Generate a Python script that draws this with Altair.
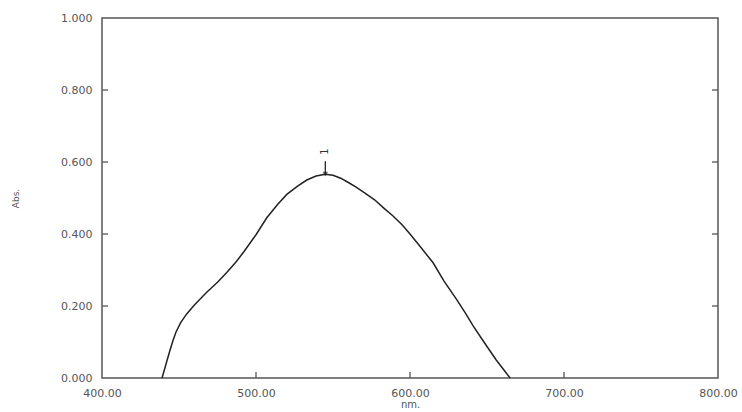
import altair as alt
import pandas as pd

# Spectrum
nm = [439, 442, 444, 446, 448, 451, 455, 460, 468, 475, 481, 487, 492, 500, 507, 514, 520, 527, 533, 539, 545,
      550, 555, 560, 565, 571, 577, 583, 589, 595, 600, 607, 615, 622, 630, 636, 641, 648, 656, 661, 665]
absorb = [0.0, 0.045, 0.075, 0.103, 0.127, 0.153, 0.178, 0.203, 0.238, 0.266, 0.293, 0.322, 0.35, 0.398, 0.445, 0.482,
          0.51, 0.533, 0.55, 0.561, 0.566, 0.563, 0.555, 0.543, 0.53, 0.513, 0.495, 0.472, 0.45, 0.425, 0.40,
          0.363, 0.32, 0.27, 0.22, 0.18, 0.145, 0.10, 0.05, 0.022, 0.0]

peak_nm = [545]
peak_abs = [0.566]
peak_label = ["1"]

y_ticks = [0.0, 0.2, 0.4, 0.6, 0.8, 1.0]
x_ticks = [400, 500, 600, 700, 800]
inner_y = [0.2, 0.4, 0.6, 0.8]
inner_x = [500, 600, 700]

df = pd.DataFrame({"nm": nm, "abs": absorb})
pk = pd.DataFrame({"nm": peak_nm, "abs": peak_abs, "lab": peak_label})
pk["top"] = pk["abs"] + 0.036
pk["txt"] = pk["abs"] + 0.063
iy = pd.DataFrame({"v": inner_y})
ix = pd.DataFrame({"v": inner_x})

gray = "#555555"
font = "DejaVu Sans"
xs = alt.Scale(domain=[400, 800], nice=False, zero=False)
ys = alt.Scale(domain=[0, 1], nice=False)

x_axis = alt.Axis(values=x_ticks, format=".2f", ticks=False, domain=False, grid=False,
                  labelPadding=9, title="nm.", titlePadding=1, titleFontWeight="normal",
                  titleFontSize=10, labelFontSize=11, labelColor=gray, titleColor=gray,
                  labelFont=font, titleFont=font, labelFlush=False)
y_axis = alt.Axis(values=y_ticks, format=".3f", ticks=False, domain=False, grid=False,
                  labelPadding=10, title="Abs.", titleFontWeight="normal", titleFontSize=9,
                  titleX=-82, titleY=180, titleAngle=270, labelFontSize=11, labelColor=gray,
                  titleColor=gray, labelFont=font, titleFont=font)

line = alt.Chart(df).mark_line(color="#222222", strokeWidth=1.5).encode(
    x=alt.X("nm:Q", scale=xs, axis=x_axis),
    y=alt.Y("abs:Q", scale=ys, axis=y_axis),
)

tick_left = alt.Chart(iy).mark_rule(color=gray, strokeWidth=1.3).encode(
    y=alt.Y("v:Q", scale=ys), x=alt.value(0), x2=alt.value(6))
tick_right = alt.Chart(iy).mark_rule(color=gray, strokeWidth=1.3).encode(
    y=alt.Y("v:Q", scale=ys), x=alt.value(610), x2=alt.value(616))
tick_bottom = alt.Chart(ix).mark_rule(color=gray, strokeWidth=1.3).encode(
    x=alt.X("v:Q", scale=xs), y=alt.value(354), y2=alt.value(360))

arrow = alt.Chart(pk).mark_rule(color="#222", strokeWidth=1.3).encode(
    x=alt.X("nm:Q", scale=xs), y=alt.Y("top:Q", scale=ys), y2="abs:Q")
head = alt.Chart(pk).mark_point(shape="triangle-down", filled=True, color="#222", size=30).encode(
    x=alt.X("nm:Q", scale=xs), y=alt.Y("abs:Q", scale=ys))
label = alt.Chart(pk).mark_text(angle=270, fontSize=10, color="#333", font=font).encode(
    x=alt.X("nm:Q", scale=xs), y=alt.Y("txt:Q", scale=ys), text="lab:N")

chart = alt.layer(line, tick_left, tick_right, tick_bottom, arrow, head, label).properties(
    width=616, height=360,
    autosize=alt.AutoSizeParams(type="none"),
    padding={"left": 102, "top": 18, "right": 24, "bottom": 34},
    background="white",
).configure_view(stroke="#555", strokeWidth=1.5)

chart.save("out.html", embed_options={"renderer": "svg", "actions": False})
